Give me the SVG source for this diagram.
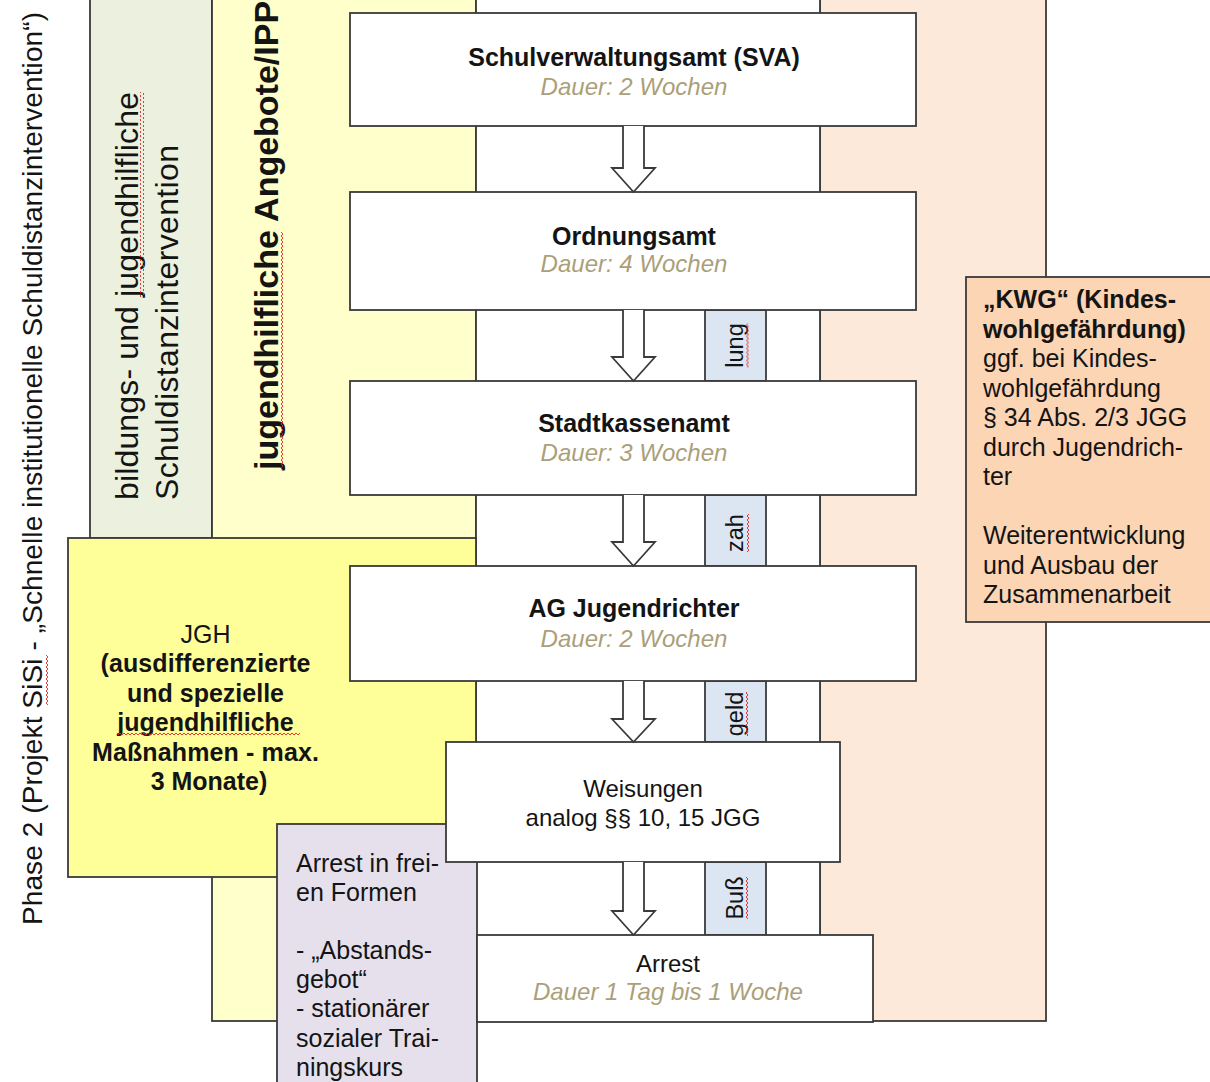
<svg xmlns="http://www.w3.org/2000/svg" width="1210" height="1082" viewBox="0 0 1210 1082">
<style>
.bx{stroke:#3a3a3a;stroke-width:1.8}
.t{font-family:"Liberation Sans",Arial,sans-serif;fill:#141414}
.b{font-weight:bold}
.ttl{font-size:25px;font-weight:bold;text-anchor:middle}
.du{font-size:24px;font-style:italic;fill:#ab9f7a;text-anchor:middle}
.reg{font-size:24px;text-anchor:middle}
.body{font-size:25px}
.lbl{font-size:23.5px;text-anchor:middle}
.arr{fill:#fff;stroke:#3a3a3a;stroke-width:1.8}
</style>
<defs>
<pattern id="sq" width="4" height="4" patternUnits="userSpaceOnUse"><path d="M0,1 L2,3 L4,1" fill="none" stroke="#e8231f" stroke-width="0.9"/></pattern>
</defs>
<rect width="1210" height="1082" fill="#fff"/>

<g id="col-green">
<rect class="bx" x="90" y="-5" width="122" height="543" fill="#ebf1de"/>
<g transform="rotate(-90 138 500)">
<text class="t" x="138" y="500" font-size="32" textLength="408">bildungs- und jugendhilfliche</text>
<rect x="341" y="502" width="205" height="4" fill="url(#sq)"/>
</g>
<text class="t" x="178" y="500" font-size="32" textLength="355" transform="rotate(-90 178 500)">Schuldistanzintervention</text>
</g>

<g id="col-yellow">
<rect class="bx" x="212" y="-5" width="264" height="1026" fill="#ffffcc"/>
<g transform="rotate(-90 278 470)">
<text class="t b" x="278" y="470" font-size="34">jugendhilfliche Angebote/IPP</text>
<rect x="278" y="473" width="238" height="4" fill="url(#sq)"/>
</g>
</g>

<g id="col-peach">
<rect class="bx" x="820" y="-5" width="226" height="1026" fill="#fde9d9"/>
</g>

<g id="col-white">
<rect class="bx" x="476" y="-5" width="344" height="1026" fill="#fff"/>
</g>

<g id="phase-label">
<g transform="rotate(-90 42 925)">
<text class="t" x="42" y="925" font-size="28" fill="#222" textLength="913">Phase 2 (Projekt SiSi - „Schnelle institutionelle Schuldistanzintervention“)</text>
<rect x="262" y="927" width="50" height="4" fill="url(#sq)"/>
</g>
</g>

<g id="node-jgh">
<rect class="bx" x="68" y="538" width="408" height="339" fill="#ffff99"/>
<text class="t" text-anchor="middle" font-size="25">
<tspan x="209" y="643">JGH</tspan>
<tspan x="209" y="672" font-weight="bold" textLength="210">(ausdifferenzierte</tspan>
<tspan x="209" y="702" font-weight="bold">und spezielle</tspan>
<tspan x="209" y="731" font-weight="bold">jugendhilfliche</tspan>
<tspan x="209" y="761" font-weight="bold" textLength="227">Maßnahmen - max.</tspan>
<tspan x="209" y="790" font-weight="bold">3 Monate)</tspan>
</text>
<rect x="118" y="733" width="182" height="4" fill="url(#sq)"/>
</g>

<g id="node-arrest-frei">
<rect class="bx" x="277" y="824" width="200" height="270" fill="#e5e0ec"/>
<text class="t body">
<tspan x="296" y="872">Arrest in frei-</tspan>
<tspan x="296" y="901">en Formen</tspan>
<tspan x="296" y="959">- „Abstands-</tspan>
<tspan x="296" y="988">gebot“</tspan>
<tspan x="296" y="1017">- stationärer</tspan>
<tspan x="296" y="1047">sozialer Trai-</tspan>
<tspan x="296" y="1076">ningskurs</tspan>
</text>
</g>

<g id="node-bussgeld">
<rect class="bx" x="705" y="310" width="61" height="71" fill="#dce6f2"/>
<rect class="bx" x="705" y="495" width="61" height="71" fill="#dce6f2"/>
<rect class="bx" x="705" y="681" width="61" height="61" fill="#dce6f2"/>
<rect class="bx" x="705" y="862" width="61" height="73" fill="#dce6f2"/>
<g transform="rotate(-90 743 345.5)"><text class="t lbl" x="743" y="345.5">lung</text><rect x="721" y="348.5" width="44" height="4" fill="url(#sq)"/></g>
<g transform="rotate(-90 743 533)"><text class="t lbl" x="743" y="533">zah</text><rect x="724" y="536" width="38" height="4" fill="url(#sq)"/></g>
<g transform="rotate(-90 743 714)"><text class="t lbl" x="743" y="714">geld</text><rect x="721" y="717" width="44" height="4" fill="url(#sq)"/></g>
<g transform="rotate(-90 743 898)"><text class="t lbl" x="743" y="898">Buß</text><rect x="722" y="901" width="42" height="4" fill="url(#sq)"/></g>
</g>

<g id="node-sva">
<rect class="bx" x="350" y="13" width="566" height="113" fill="#fff"/>
<text class="t ttl" x="634" y="66">Schulverwaltungsamt (SVA)</text>
<text class="t du" x="634" y="95">Dauer: 2 Wochen</text>
</g>
<g id="node-ordnungsamt">
<rect class="bx" x="350" y="192" width="566" height="118" fill="#fff"/>
<text class="t ttl" x="634" y="245">Ordnungsamt</text>
<text class="t du" x="634" y="272">Dauer: 4 Wochen</text>
</g>
<g id="node-stadtkasse">
<rect class="bx" x="350" y="381" width="566" height="114" fill="#fff"/>
<text class="t ttl" x="634" y="432">Stadtkassenamt</text>
<text class="t du" x="634" y="461">Dauer: 3 Wochen</text>
</g>
<g id="node-ag">
<rect class="bx" x="350" y="566" width="566" height="115" fill="#fff"/>
<text class="t ttl" x="634" y="617">AG Jugendrichter</text>
<text class="t du" x="634" y="647">Dauer: 2 Wochen</text>
</g>
<g id="node-weisungen">
<rect class="bx" x="446" y="742" width="394" height="120" fill="#fff"/>
<text class="t reg" x="643" y="797">Weisungen</text>
<text class="t reg" x="643" y="826">analog §§ 10, 15 JGG</text>
</g>
<g id="node-arrest">
<rect class="bx" x="477" y="935" width="396" height="87" fill="#fff"/>
<text class="t reg" x="668" y="972">Arrest</text>
<text class="t du" x="668" y="1000">Dauer 1 Tag bis 1 Woche</text>
</g>

<g id="node-kwg">
<rect class="bx" x="966" y="277" width="260" height="345" fill="#fcd5b4"/>
<text class="t body">
<tspan x="983" y="308" font-weight="bold">„KWG“ (Kindes-</tspan>
<tspan x="983" y="337.5" font-weight="bold">wohlgefährdung)</tspan>
<tspan x="983" y="367">ggf. bei Kindes-</tspan>
<tspan x="983" y="396.5">wohlgefährdung</tspan>
<tspan x="983" y="426">§ 34 Abs. 2/3 JGG</tspan>
<tspan x="983" y="455.5">durch Jugendrich-</tspan>
<tspan x="983" y="485">ter</tspan>
<tspan x="983" y="544">Weiterentwicklung</tspan>
<tspan x="983" y="573.5">und Ausbau der</tspan>
<tspan x="983" y="603">Zusammenarbeit</tspan>
</text>
</g>

<g id="connectors">
<path class="arr" d="M623,126 L623,168 L612,168 L633.5,192 L655,168 L644,168 L644,126"/>
<path class="arr" d="M623,310 L623,357 L612,357 L633.5,381 L655,357 L644,357 L644,310"/>
<path class="arr" d="M623,495 L623,542 L612,542 L633.5,566 L655,542 L644,542 L644,495"/>
<path class="arr" d="M623,681 L623,719 L612,719 L633.5,742 L655,719 L644,719 L644,681"/>
<path class="arr" d="M623,862 L623,911 L612,911 L633.5,935 L655,911 L644,911 L644,862"/>
</g>
</svg>
